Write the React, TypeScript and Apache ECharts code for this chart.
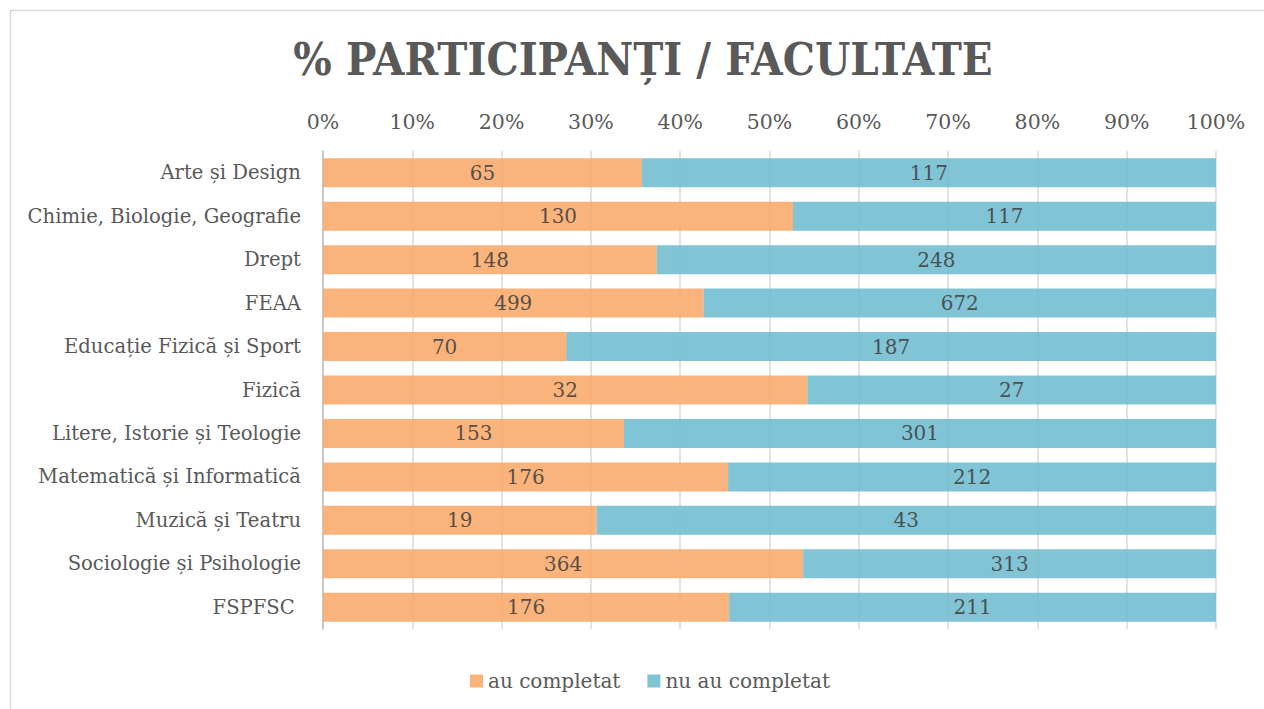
import React, { useEffect, useRef } from "react";
import * as echarts from "echarts";

const categories = [
  "Arte și Design",
  "Chimie, Biologie, Geografie",
  "Drept",
  "FEAA",
  "Educație Fizică și Sport",
  "Fizică",
  "Litere, Istorie și Teologie",
  "Matematică și Informatică",
  "Muzică și Teatru",
  "Sociologie și Psihologie",
  "FSPFSC ",
];
const completed = [65, 130, 148, 499, 70, 32, 153, 176, 19, 364, 176];
const notCompleted = [117, 117, 248, 672, 187, 27, 301, 212, 43, 313, 211];
const seriesNames = ["au completat", "nu au completat"];
const titleText = "% PARTICIPANȚI / FACULTATE";

const FONT = "'DejaVu Serif', serif";

export default function App() {
  const ref = useRef<HTMLDivElement>(null);
  useEffect(() => {
    document.body.style.margin = "0";
    const chart = echarts.init(ref.current!, null, { renderer: "svg" });
    const totals = completed.map((v, i) => v + notCompleted[i]);
    const pctA = completed.map((v, i) => (v / totals[i]) * 100);
    const pctB = notCompleted.map((v, i) => (v / totals[i]) * 100);
    const label = (arr: number[]) => ({
      show: true,
      position: "inside",
      color: "#404040",
      fontSize: 20,
      fontFamily: FONT,
      formatter: (p: any) => String(arr[p.dataIndex]),
    });
    chart.setOption({
      animation: false,
      textStyle: { fontFamily: FONT },
      graphic: [
        {
          type: "rect",
          shape: { x: 10.5, y: 10.5, width: 1300, height: 800 },
          style: { fill: "none", stroke: "#d9d9d9", lineWidth: 1.5 },
          silent: true,
        },
        {
          type: "text",
          x: 643,
          y: 59,
          style: {
            text: titleText,
            fontFamily: "'DejaVu Serif Condensed', 'DejaVu Serif', serif",
            fontWeight: "bold",
            fontSize: 45,
            fill: "#595959",
            textAlign: "center",
            textVerticalAlign: "middle",
          },
        },
      ],
      legend: {
        left: 465,
        top: 666,
        itemWidth: 13,
        itemHeight: 13,
        itemGap: 27,
        icon: "rect",
        textStyle: { fontSize: 20, color: "#595959", fontFamily: FONT },
        data: seriesNames,
      },
      grid: { left: 323, right: 48, top: 151, bottom: 80, containLabel: false },
      xAxis: {
        type: "value",
        position: "top",
        min: 0,
        max: 100,
        interval: 10,
        axisLabel: {
          formatter: "{value}%",
          fontSize: 20.5,
          color: "#595959",
          margin: 19,
          fontFamily: FONT,
        },
        axisLine: { show: false },
        axisTick: { show: false },
        splitLine: { show: true, lineStyle: { color: "#d9d9d9", width: 1.5 } },
      },
      yAxis: {
        type: "category",
        inverse: true,
        data: categories,
        axisLine: { show: true, lineStyle: { color: "#bfbfbf", width: 1.5 } },
        axisTick: { show: false },
        axisLabel: { fontSize: 19.6, color: "#595959", margin: 22, fontFamily: FONT },
      },
      series: [
        {
          name: seriesNames[0],
          type: "bar",
          stack: "total",
          barWidth: 29,
          data: pctA,
          itemStyle: { color: "#F8A869", opacity: 0.88 },
          label: label(completed),
        },
        {
          name: seriesNames[1],
          type: "bar",
          stack: "total",
          barWidth: 29,
          data: pctB,
          itemStyle: { color: "#6FBCCF", opacity: 0.88 },
          label: label(notCompleted),
        },
      ],
    });
    return () => chart.dispose();
  }, []);
  return <div ref={ref} style={{ width: 1264, height: 709 }} />;
}
